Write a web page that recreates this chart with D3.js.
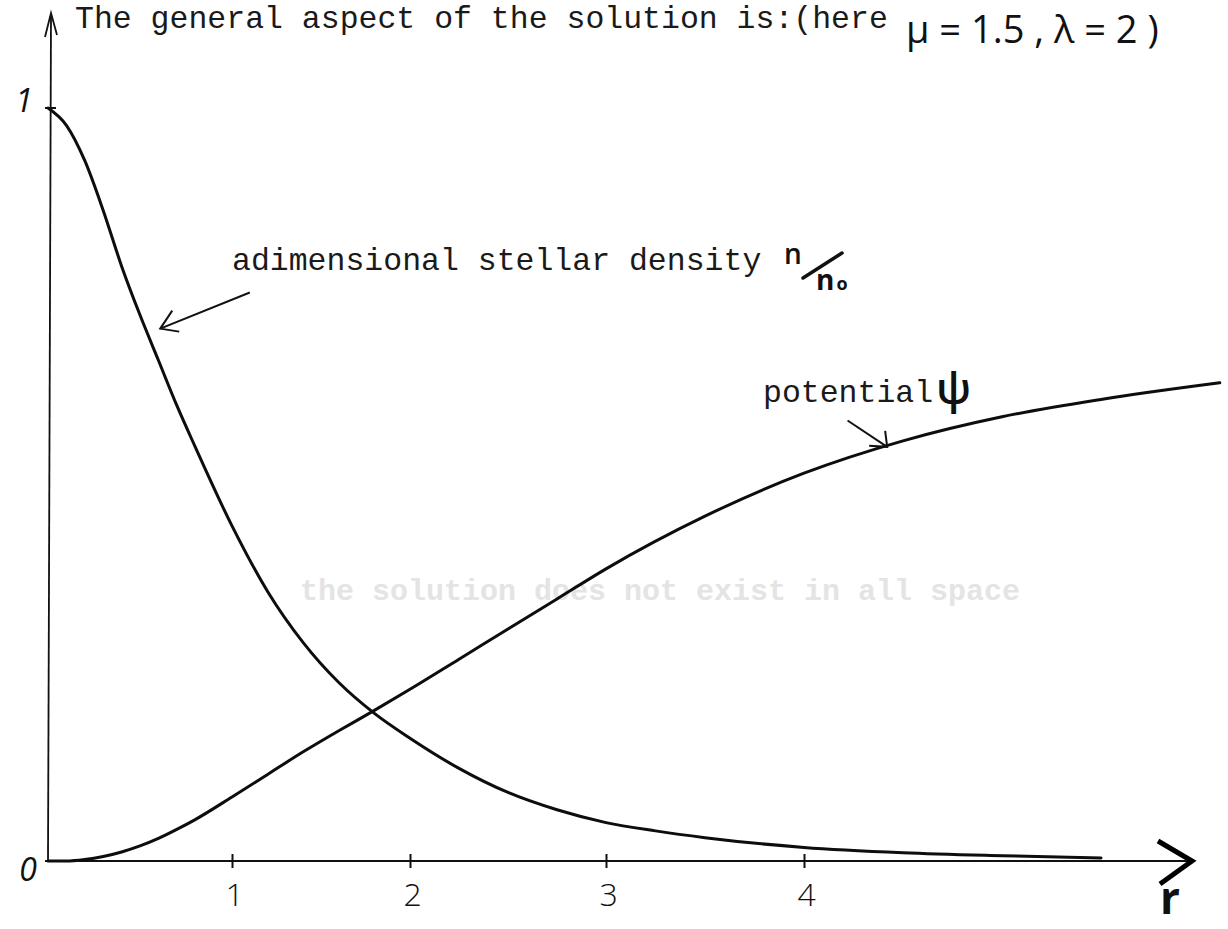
<!DOCTYPE html>
<html>
<head>
<meta charset="utf-8">
<script src="https://cdn.jsdelivr.net/npm/d3@7"></script>
<style>
  body { margin: 0; background: #fff; }
  svg { display: block; }
  .typed { font-family: "Liberation Mono", "Courier New", monospace; fill: #1a1a1a; }
  .hand { font-family: "Open Sans", "DejaVu Sans", sans-serif; fill: #111; }
</style>
</head>
<body>
<svg id="chart" width="1228" height="929"></svg>
<script>
const rDensity = [0, 0.1, 0.2, 0.3, 0.4, 0.5, 0.6, 0.7, 0.8, 1.0, 1.2, 1.4, 1.6, 1.8, 2.0, 2.25, 2.5, 2.75, 3.0, 3.25, 3.5, 4.0, 4.5, 5.0, 5.5];
const density  = [1.0, 0.977, 0.93, 0.864, 0.79, 0.725, 0.665, 0.605, 0.55, 0.445, 0.358, 0.29, 0.237, 0.196, 0.163, 0.123, 0.091, 0.068, 0.051, 0.04, 0.031, 0.018, 0.011, 0.007, 0.004];

const rPotential = [0, 0.1, 0.2, 0.3, 0.4, 0.5, 0.6, 0.7, 0.8, 1.0, 1.2, 1.4, 1.6, 1.8, 2.0, 2.25, 2.5, 2.75, 3.0, 3.5, 4.0, 4.5, 5.0, 5.5, 6.1];
const potential  = [0, 0, 0.002, 0.006, 0.012, 0.02, 0.03, 0.042, 0.055, 0.085, 0.115, 0.145, 0.173, 0.2, 0.228, 0.268, 0.308, 0.348, 0.388, 0.458, 0.515, 0.558, 0.59, 0.613, 0.635];

const xTicks = [1, 2, 3, 4];
const xTickLabels = ["1", "2", "3", "4"];
const yTicks = [0, 1];

const svg = d3.select("#chart");

// hand drawn ticks are not evenly spaced, so the scale follows them
const x = d3.scaleLinear().domain([0, 1, 2, 3, 4]).range([48, 232, 410, 606, 804]);
const y = d3.scaleLinear().domain([0, 1]).range([861, 108]);

// faint show-through from the other side of the sheet
svg.append("text").attr("class", "typed")
    .attr("x", 300).attr("y", 600)
    .style("font-size", "30px").style("font-weight", "bold")
    .style("fill", "#e4e4e4")
    .text("the solution does not exist in all space");

// x axis
const xAxis = svg.append("g")
    .attr("transform", `translate(0,${y(0)})`)
    .call(d3.axisBottom(x).tickValues(xTicks).tickFormat((d, i) => xTickLabels[i]).tickSize(6).tickSizeOuter(0));
xAxis.select(".domain").remove();
xAxis.selectAll(".tick line")
    .attr("y1", -7).attr("y2", 7)
    .attr("stroke", "#111").attr("stroke-width", 2);
xAxis.selectAll(".tick text")
    .attr("class", "hand")
    .attr("y", 22)
    .attr("dx", 2)
    .style("font-size", "32px")
    .style("font-weight", 300);

svg.append("line")
    .attr("x1", x(0)).attr("y1", y(0))
    .attr("x2", 1190).attr("y2", y(0))
    .attr("stroke", "#111").attr("stroke-width", 2.2);

// x arrow head (thick chevron)
svg.append("path")
    .attr("d", `M1158,841 L1192,${y(0)} L1160,884`)
    .attr("fill", "none").attr("stroke", "#000")
    .attr("stroke-width", 5).attr("stroke-linejoin", "miter");

svg.append("text").attr("class", "hand")
    .attr("x", 1160).attr("y", 914)
    .style("font-size", "44px").style("font-weight", 700)
    .text("r");

// y axis
svg.append("line")
    .attr("x1", x(0)).attr("y1", y(0))
    .attr("x2", 51).attr("y2", 14)
    .attr("stroke", "#111").attr("stroke-width", 1.8);
svg.append("path")
    .attr("d", "M45,37 L51,13 L57,35")
    .attr("fill", "none").attr("stroke", "#111").attr("stroke-width", 1.8);

svg.selectAll(".ytick")
    .data(yTicks)
    .join("line")
    .attr("class", "ytick")
    .attr("x1", x(0) - 3).attr("x2", x(0) + 8)
    .attr("y1", d => y(d)).attr("y2", d => y(d))
    .attr("stroke", "#111").attr("stroke-width", 2);

svg.selectAll(".ylab")
    .data(yTicks)
    .join("text")
    .attr("class", "hand ylab")
    .attr("x", d => d === 0 ? 28 : 24)
    .attr("y", d => y(d) + (d === 0 ? 20 : 4))
    .attr("text-anchor", "middle")
    .style("font-size", "32px")
    .style("font-style", "italic")
    .style("font-weight", 400)
    .text(d => d);

// curves
const line = d3.line()
    .x(d => x(d[0]))
    .y(d => y(d[1]))
    .curve(d3.curveMonotoneX);

svg.append("path")
    .datum(rDensity.map((r, i) => [r, density[i]]))
    .attr("d", line)
    .attr("fill", "none").attr("stroke", "#0d0d0d")
    .attr("stroke-width", 3).attr("stroke-linecap", "round");

svg.append("path")
    .datum(rPotential.map((r, i) => [r, potential[i]]))
    .attr("d", line)
    .attr("fill", "none").attr("stroke", "#0d0d0d")
    .attr("stroke-width", 3).attr("stroke-linecap", "round");

// title
svg.append("text").attr("class", "typed")
    .attr("x", 75).attr("y", 28)
    .style("font-size", "31.5px")
    .text("The general aspect of the solution is:(here");

svg.append("text").attr("class", "hand")
    .attr("x", 906).attr("y", 43)
    .style("font-size", "38px").style("font-weight", 400)
    .text("\u03bc = 1.5 , \u03bb = 2 )");

// density label + arrow
svg.append("text").attr("class", "typed")
    .attr("x", x(1.0)).attr("y", 270)
    .style("font-size", "31.5px")
    .text("adimensional stellar density");

// handwritten n / n0
svg.append("text").attr("class", "hand")
    .attr("x", 784).attr("y", 264)
    .style("font-size", "28px").style("font-weight", 600)
    .text("n");
svg.append("path")
    .attr("d", "M803,278 L842,253")
    .attr("stroke", "#111").attr("stroke-width", 3.5).attr("stroke-linecap", "round");
const n0 = svg.append("text").attr("class", "hand")
    .attr("x", 816).attr("y", 290)
    .style("font-size", "28px").style("font-weight", 700);
n0.append("tspan").text("n");
n0.append("tspan").attr("dx", 2).style("font-size", "18px").text("o");

const annArrow = (tail, tip, w1, w2) => {
    svg.append("path")
        .attr("d", `M${x(tail[0])},${y(tail[1])} L${x(tip[0])},${y(tip[1])}`)
        .attr("fill", "none").attr("stroke", "#111").attr("stroke-width", 2);
    svg.append("path")
        .attr("d", `M${w1[0]},${w1[1]} L${x(tip[0])},${y(tip[1])} L${w2[0]},${w2[1]}`)
        .attr("fill", "none").attr("stroke", "#111").attr("stroke-width", 2);
};
// wings given as offsets from the tip
const wing = (tip, dx, dy) => [x(tip[0]) + dx, y(tip[1]) + dy];

const dTip = [0.61, 0.707], dTail = [1.1, 0.755];
annArrow(dTail, dTip, wing(dTip, 12, -18), wing(dTip, 19, 3));

// potential label + arrow
svg.append("text").attr("class", "typed")
    .attr("x", 763).attr("y", 402)
    .style("font-size", "31.5px")
    .text("potential");
svg.append("text").attr("class", "hand")
    .attr("x", 936).attr("y", 404)
    .style("font-size", "44px").style("font-weight", 600)
    .text("\u03c8");

const pTip = [4.42, 0.55], pTail = [4.22, 0.585];
annArrow(pTail, pTip, wing(pTip, -18, -1), wing(pTip, -2, -16));
</script>
</body>
</html>
